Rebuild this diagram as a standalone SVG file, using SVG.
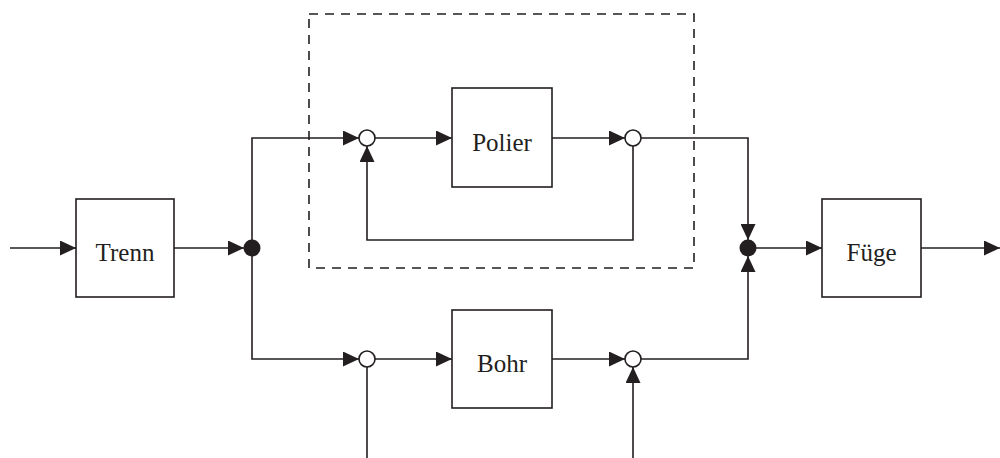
<svg xmlns="http://www.w3.org/2000/svg" width="1000" height="458" viewBox="0 0 1000 458">
  <style>
    .box { fill: #ffffff; stroke: #231f20; stroke-width: 1.6; }
    .lbl { font-family: "Liberation Serif", "Times New Roman", serif; font-size: 25px; fill: #231f20; text-anchor: middle; }
    .wire { fill: none; stroke: #231f20; stroke-width: 1.6; }
    .arr { marker-end: url(#head); }
    .junction { fill: #231f20; }
    .sum { fill: #ffffff; stroke: #231f20; stroke-width: 1.6; }
    .frame { fill: none; stroke: #231f20; stroke-width: 1.6; stroke-dasharray: 9 7; }
  </style>
  <defs>
    <marker id="head" viewBox="0 0 16 15" refX="16" refY="7.5" markerWidth="16" markerHeight="15" markerUnits="userSpaceOnUse" orient="auto">
      <path d="M0,0 L16,7.5 L0,15 z" fill="#231f20"/>
    </marker>
  </defs>

  <rect width="1000" height="458" fill="#ffffff"/>

  <!-- dashed boundary around the polishing loop -->
  <rect id="frame" class="frame" x="309" y="14" width="385" height="254"/>

  <g id="connectors">
    <path class="wire arr" d="M10,248 H76"/>
    <path class="wire arr" d="M174,248 H244"/>
    <path class="wire arr" d="M252,248 V138 H359"/>
    <path class="wire arr" d="M252,248 V359 H359"/>
    <path class="wire arr" d="M375,138 H452"/>
    <path class="wire arr" d="M552,138 H625"/>
    <path class="wire arr" d="M641,138 H748 V240"/>
    <path class="wire arr" d="M633,146 V240 H367 V146"/>
    <path class="wire arr" d="M375,359 H452"/>
    <path class="wire arr" d="M552,359 H625"/>
    <path class="wire arr" d="M641,359 H748 V256"/>
    <path class="wire" d="M367,367 V458"/>
    <path class="wire arr" d="M633,458 V367"/>
    <path class="wire arr" d="M756,248 H822"/>
    <path class="wire arr" d="M921,248 H1000"/>
  </g>

  <g id="trenn">
    <rect class="box" x="76" y="199" width="98" height="98"/>
    <text class="lbl" x="125" y="261">Trenn</text>
  </g>
  <g id="polier">
    <rect class="box" x="452" y="88" width="100" height="99"/>
    <text class="lbl" x="502" y="151">Polier</text>
  </g>
  <g id="bohr">
    <rect class="box" x="452" y="310" width="100" height="98"/>
    <text class="lbl" x="502" y="372">Bohr</text>
  </g>
  <g id="fuege">
    <rect class="box" x="822" y="199" width="99" height="98"/>
    <text class="lbl" x="871.5" y="261">Füge</text>
  </g>

  <g id="split"><circle class="junction" cx="252" cy="248" r="8.5"/></g>
  <g id="merge"><circle class="junction" cx="748" cy="248" r="8.5"/></g>
  <g id="sum-polier-in"><circle class="sum" cx="367" cy="138" r="8"/></g>
  <g id="sum-polier-out"><circle class="sum" cx="633" cy="138" r="8"/></g>
  <g id="sum-bohr-in"><circle class="sum" cx="367" cy="359" r="8"/></g>
  <g id="sum-bohr-out"><circle class="sum" cx="633" cy="359" r="8"/></g>
</svg>
